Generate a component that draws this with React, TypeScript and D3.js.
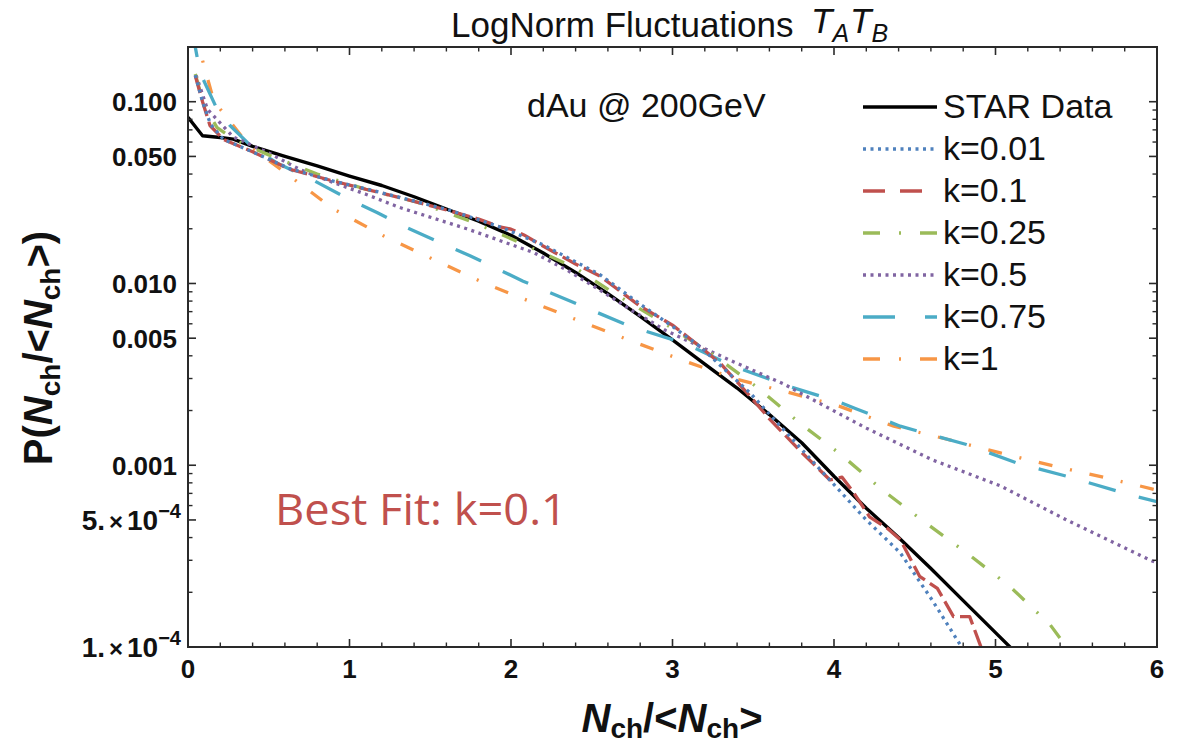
import React from "react";
import * as d3 from "d3";

// ---------- data ----------
const xTickValues = [0, 1, 2, 3, 4, 5, 6];
const yMajorValues = [0.1, 0.05, 0.01, 0.005, 0.001, 0.0005, 0.0001];
const yMajorMantissa = ["0.100", "0.050", "0.010", "0.005", "0.001", "5.", "1."];
const yMajorExponent = ["", "", "", "", "", "−4", "−4"];

const starData: [number, number][] = [
  [0, 0.082], [0.09, 0.065], [0.2, 0.0635], [0.28, 0.0623], [0.4, 0.0568], [0.6, 0.05], [0.8, 0.0443],
  [1.0, 0.039], [1.2, 0.0346], [1.4, 0.03], [1.6, 0.0257], [1.8, 0.022], [2.0, 0.0184], [2.2, 0.0147],
  [2.4, 0.0115], [2.6, 0.0088], [2.8, 0.0066], [3.0, 0.0049], [3.2, 0.0036], [3.4, 0.00266], [3.6, 0.0019],
  [3.8, 0.00133], [4.0, 0.00087], [4.2, 0.00058], [4.4, 0.0004], [4.6, 0.00027], [4.8, 0.00018],
  [5.0, 0.00012], [5.2, 0.00008],
];
const k001Data: [number, number][] = [
  [0.045, 0.14], [0.09, 0.1], [0.14, 0.075], [0.22, 0.062], [0.4, 0.053], [0.63, 0.0428], [0.9, 0.0366],
  [1.1, 0.0332], [1.31, 0.0298], [1.62, 0.0253], [1.93, 0.0205], [2.2, 0.0163], [2.55, 0.0112], [2.8, 0.0077],
  [3.0, 0.0058], [3.17, 0.0045], [3.48, 0.0025], [3.79, 0.00125], [3.99, 0.0008], [4.2, 0.0005],
  [4.41, 0.00033], [4.61, 0.00018], [4.79, 0.0001], [4.9, 0.00007],
];
const k01Data: [number, number][] = [
  [0.045, 0.139], [0.09, 0.1], [0.136, 0.074], [0.22, 0.062], [0.4, 0.053], [0.63, 0.0425], [0.9, 0.0366],
  [1.1, 0.033], [1.31, 0.0297], [1.62, 0.0251], [1.8, 0.0226], [1.93, 0.0205], [2.0, 0.0199], [2.08, 0.0185],
  [2.18, 0.0164], [2.4, 0.0128], [2.55, 0.011], [2.8, 0.0075], [3.0, 0.0059], [3.17, 0.0045], [3.3, 0.0036],
  [3.48, 0.0024], [3.6, 0.0018], [3.79, 0.0012], [3.975, 0.00083], [4.05, 0.00086], [4.12, 0.00071],
  [4.22, 0.00052], [4.33, 0.00045], [4.41, 0.00039], [4.53, 0.000245], [4.64, 0.00021], [4.74, 0.000147],
  [4.84, 0.000147], [4.91, 0.0001], [4.96, 0.00007],
];
const k025Data: [number, number][] = [
  [0.045, 0.142], [0.1, 0.095], [0.18, 0.072], [0.3, 0.061], [0.5, 0.051], [0.8, 0.04], [1.1, 0.033],
  [1.42, 0.028], [1.77, 0.0217], [2.08, 0.0164], [2.39, 0.0123], [2.65, 0.0087], [2.94, 0.0061],
  [3.23, 0.0042], [3.52, 0.0027], [3.79, 0.0017], [4.04, 0.00115], [4.3, 0.00073], [4.57, 0.00048],
  [4.82, 0.00033], [5.09, 0.000215], [5.34, 0.000132], [5.44, 0.0001], [5.55, 0.00008],
];
const k05Data: [number, number][] = [
  [0.05, 0.14], [0.12, 0.091], [0.28, 0.064], [0.49, 0.0528], [0.69, 0.0425], [0.9, 0.0359], [1.1, 0.031],
  [1.31, 0.0262], [1.726, 0.02], [2.14, 0.0148], [2.35, 0.0118], [2.55, 0.0092], [2.75, 0.0071],
  [2.96, 0.0055], [3.17, 0.0045], [3.38, 0.0037], [3.69, 0.0028], [3.79, 0.0025], [4.2, 0.0016],
  [4.61, 0.00107], [5.03, 0.00077], [5.44, 0.0005], [5.96, 0.0003], [6.0, 0.00029],
];
const k075Data: [number, number][] = [
  [0.03, 0.25], [0.045, 0.2], [0.074, 0.145], [0.18, 0.091], [0.26, 0.074], [0.4, 0.056], [0.55, 0.046],
  [0.75, 0.038], [1.0, 0.029], [1.17, 0.0246], [1.354, 0.0203], [1.746, 0.0142], [2.075, 0.0103],
  [2.41, 0.0077], [2.74, 0.0058], [3.07, 0.0047], [3.38, 0.0035], [3.73, 0.0027], [4.02, 0.00225],
  [4.14, 0.00204], [4.41, 0.00164], [4.82, 0.0013], [5.13, 0.00103], [5.44, 0.00087], [5.85, 0.00068],
  [6.0, 0.00063],
];
const k1Data: [number, number][] = [
  [0.05, 0.25], [0.074, 0.19], [0.157, 0.103], [0.2, 0.091], [0.38, 0.057], [0.63, 0.039], [0.9, 0.0257],
  [1.21, 0.0183], [1.54, 0.0133], [1.85, 0.0099], [2.16, 0.0077], [2.47, 0.006], [2.78, 0.0047],
  [3.09, 0.0037], [3.4, 0.00297], [3.73, 0.0025], [4.04, 0.0021], [4.37, 0.00164], [4.7, 0.00139],
  [5.03, 0.00117], [5.36, 0.00099], [5.69, 0.00085], [6.0, 0.00073],
];

const seriesNames = ["STAR Data", "k=0.01", "k=0.1", "k=0.25", "k=0.5", "k=0.75", "k=1"];
const seriesData = [starData, k001Data, k01Data, k025Data, k05Data, k075Data, k1Data];

// ---------- styles ----------
const seriesColors = ["#000000", "#4F81BD", "#C0504D", "#9BBB59", "#8064A2", "#4BACC6", "#F79646"];
const seriesDash = ["none", "3,4.5", "18,6", "16,17,2,17", "3,4.5", "28,24", "14,18,2,18"];
const legendDash = ["none", "3,4.5", "22,15", "17,19,2,19", "3,4.5", "32,30", "17,19,2,19"];
const drawOrder = [0, 6, 5, 4, 3, 2, 1];

const FONT = "'Liberation Sans', Arial, sans-serif";
const L = 188, R = 1157, T = 47, B = 647;

export default function App() {
  const x = d3.scaleLinear().domain([0, 6]).range([L, R]);
  const y = d3.scaleLog().domain([0.0001, 0.2]).range([B, T]);
  const line = d3
    .line<[number, number]>()
    .x((d) => x(d[0]))
    .y((d) => y(d[1]));

  const xMinor = d3.range(0, 6.0001, 0.2).filter((v) => Math.abs(v - Math.round(v)) > 1e-6);
  const yMinor: number[] = [];
  for (let e = -4; e <= -1; e++) {
    for (let m = 1; m <= 9; m++) {
      const v = m * Math.pow(10, e);
      if (v > 0.2 + 1e-9) continue;
      if (yMajorValues.some((u) => Math.abs(u - v) / v < 1e-6)) continue;
      yMinor.push(v);
    }
  }

  const axisColor = "#2a2a2a";
  const majorLen = 8;
  const minorLen = 4.5;

  return (
    <svg width={1188} height={745} style={{ display: "block", position: "absolute", left: 0, top: 0 }}>
      <rect x={0} y={0} width={1188} height={745} fill="#fff" />
      <defs>
        <clipPath id="plotClip">
          <rect x={L} y={T} width={R - L} height={B - T} />
        </clipPath>
      </defs>

      {/* Title */}
      <text x={451} y={37} fontFamily={FONT} fontSize={35} fill="#111">
        LogNorm Fluctuations
      </text>
      <text x={811} y={33} fontFamily={FONT} fontSize={35} fontStyle="italic" fill="#111">
        T<tspan fontSize={25} dy={9}>A</tspan>
        <tspan fontSize={35} dy={-9} dx={1}>T</tspan>
        <tspan fontSize={25} dy={9}>B</tspan>
      </text>

      {/* curves */}
      <g clipPath="url(#plotClip)">
        {drawOrder.map((i) => (
          <path
            key={i}
            d={line(seriesData[i]) || ""}
            fill="none"
            stroke={seriesColors[i]}
            strokeWidth={i === 0 ? 3.4 : 3.3}
            strokeDasharray={seriesDash[i]}
            strokeLinejoin="round"
          />
        ))}
      </g>

      {/* frame */}
      <rect x={L} y={T} width={R - L} height={B - T} fill="none" stroke={axisColor} strokeWidth={2} />

      {/* x ticks */}
      {xTickValues.map((v) => (
        <g key={"xt" + v}>
          <line x1={x(v)} x2={x(v)} y1={B} y2={B - majorLen} stroke={axisColor} strokeWidth={1.6} />
          <line x1={x(v)} x2={x(v)} y1={T} y2={T + majorLen} stroke={axisColor} strokeWidth={1.6} />
          <text x={x(v)} y={678} textAnchor="middle" fontFamily={FONT} fontWeight="bold" fontSize={26} fill="#111">
            {v}
          </text>
        </g>
      ))}
      {xMinor.map((v) => (
        <g key={"xm" + v}>
          <line x1={x(v)} x2={x(v)} y1={B} y2={B - minorLen} stroke={axisColor} strokeWidth={1.4} />
          <line x1={x(v)} x2={x(v)} y1={T} y2={T + minorLen} stroke={axisColor} strokeWidth={1.4} />
        </g>
      ))}

      {/* y ticks */}
      {yMajorValues.map((v, i) => (
        <g key={"yt" + v}>
          <line x1={L} x2={L + majorLen} y1={y(v)} y2={y(v)} stroke={axisColor} strokeWidth={1.6} />
          <line x1={R} x2={R - majorLen} y1={y(v)} y2={y(v)} stroke={axisColor} strokeWidth={1.6} />
          {yMajorExponent[i] === "" ? (
            <text x={177} y={y(v) + 9.5} textAnchor="end" fontFamily={FONT} fontWeight="bold" fontSize={26} fill="#111">
              {yMajorMantissa[i]}
            </text>
          ) : (
            <text x={181} y={y(v) + 10} textAnchor="end" fontFamily={FONT} fontWeight="bold" fontSize={28} fill="#111">
              {yMajorMantissa[i]}
              <tspan fontSize={24} dx={4}>×</tspan>
              <tspan fontSize={28} dx={4}>10</tspan>
              <tspan fontSize={20} dy={-12}>{yMajorExponent[i]}</tspan>
            </text>
          )}
        </g>
      ))}
      {yMinor.map((v) => (
        <g key={"ym" + v}>
          <line x1={L} x2={L + minorLen} y1={y(v)} y2={y(v)} stroke={axisColor} strokeWidth={1.4} />
          <line x1={R} x2={R - minorLen} y1={y(v)} y2={y(v)} stroke={axisColor} strokeWidth={1.4} />
        </g>
      ))}

      {/* axis labels */}
      <text x={672} y={732} textAnchor="middle" fontFamily={FONT} fontWeight="bold" fontSize={40} fill="#111">
        <tspan fontStyle="italic">N</tspan>
        <tspan fontSize={28} dy={6}>ch</tspan>
        <tspan dy={-6}>/&lt;</tspan>
        <tspan fontStyle="italic">N</tspan>
        <tspan fontSize={28} dy={6}>ch</tspan>
        <tspan dy={-6}>&gt;</tspan>
      </text>
      <text
        transform="translate(52,348) rotate(-90)"
        textAnchor="middle"
        fontFamily={FONT}
        fontWeight="bold"
        fontSize={40}
        fill="#111"
      >
        P(
        <tspan fontStyle="italic">N</tspan>
        <tspan fontSize={28} dy={8}>ch</tspan>
        <tspan dy={-8}>/&lt;</tspan>
        <tspan fontStyle="italic">N</tspan>
        <tspan fontSize={28} dy={8}>ch</tspan>
        <tspan dy={-8}>&gt;)</tspan>
      </text>

      {/* annotation */}
      <text x={527} y={117} fontFamily={FONT} fontSize={34} fill="#111">
        dAu @ 200GeV
      </text>
      <text x={275} y={525} fontFamily="'Open Sans', 'Noto Sans', sans-serif" fontSize={44} fill="#C0504D" textLength={292} lengthAdjust="spacingAndGlyphs">
        Best Fit: k=0.1
      </text>

      {/* legend */}
      {seriesNames.map((name, i) => {
        const ly = 107 + i * 42;
        return (
          <g key={"lg" + i}>
            <line
              x1={863}
              x2={937}
              y1={ly}
              y2={ly}
              stroke={seriesColors[i]}
              strokeWidth={i === 0 ? 3.6 : 3.3}
              strokeDasharray={legendDash[i]}
            />
            <text x={943} y={ly + 11} fontFamily={FONT} fontSize={34} fill="#111">
              {name}
            </text>
          </g>
        );
      })}
    </svg>
  );
}
